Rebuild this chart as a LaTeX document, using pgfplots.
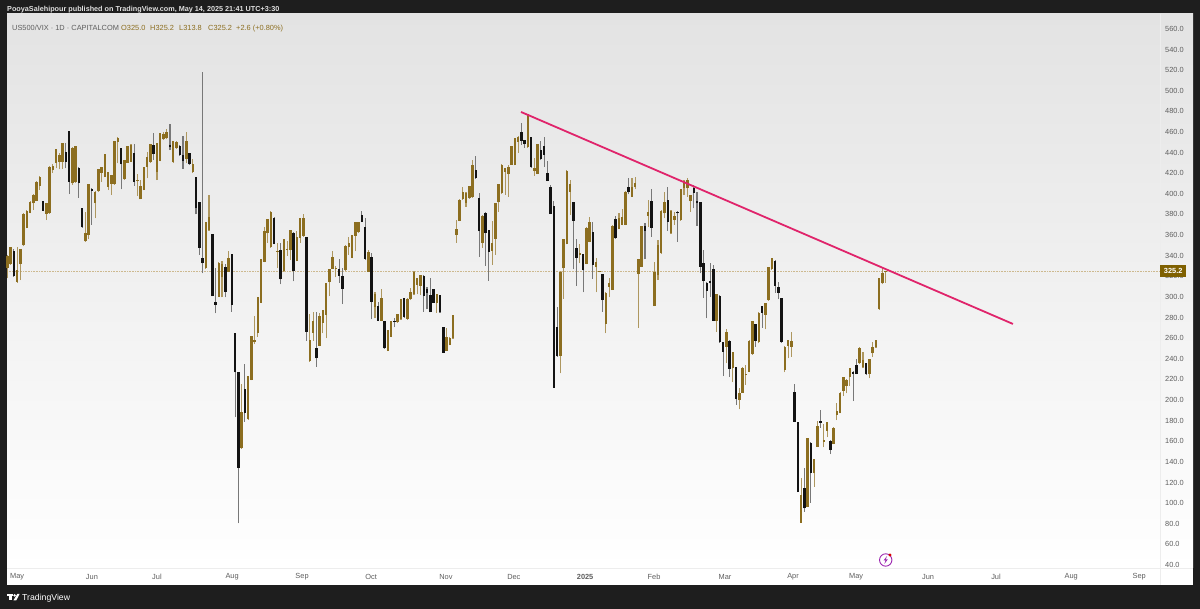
\documentclass[border=0pt]{standalone}
\usepackage{pgfplots}
\usepackage{pgfplotstable}
\usepackage{fontspec}
\pgfplotsset{compat=1.18}
\setmainfont{Liberation Sans}
\definecolor{frame}{HTML}{1E1E1E}
\definecolor{gold}{HTML}{8C6E20}
\definecolor{goldwick}{HTML}{AE975F}
\definecolor{dotline}{HTML}{CDB98F}
\definecolor{blk}{HTML}{131313}
\definecolor{blkwick}{HTML}{787878}
\definecolor{pink}{HTML}{E0246B}
\definecolor{lab}{HTML}{5E5E5E}
\definecolor{tag}{HTML}{7F6000}
\definecolor{icon}{HTML}{9C27B0}
\pgfplotstableread{
i o h l c
0 328.4 340.7 318.0 339.7
1 331.6 348.7 331.0 348.4
2 344.9 346.2 319.6 320.6
3 314.8 348.7 313.8 326.1
4 331.6 346.5 316.4 346.5
5 350.0 381.5 349.0 380.8
6 366.9 384.5 366.5 383.7
7 381.7 393.0 381.0 392.4
8 390.8 399.5 384.3 398.9
9 393.4 412.0 393.0 411.1
10 407.6 417.0 403.7 416.0
11 393.0 393.5 383.0 383.7
12 380.4 391.0 374.6 390.8
13 381.0 427.0 380.5 426.3
14 423.1 428.9 420.5 427.3
15 430.2 443.5 424.7 443.2
16 431.2 440.0 423.8 437.7
17 430.9 449.5 424.1 449.0
18 440.9 449.0 424.7 431.2
19 461.3 461.3 399.8 411.8
20 410.2 445.0 408.6 444.8
21 411.5 446.0 410.8 446.0
22 424.7 426.3 396.3 410.2
23 385.9 386.0 367.0 367.5
24 353.9 382.0 353.5 361.7
25 360.0 409.5 355.9 409.2
26 404.4 405.3 369.8 403.0
27 390.8 402.5 376.2 402.1
28 402.4 424.0 402.0 423.8
29 420.5 426.0 411.8 425.7
30 416.6 439.0 416.0 438.6
31 406.9 421.5 403.7 421.2
32 409.5 418.5 398.9 418.3
33 409.5 451.5 409.0 451.2
34 450.0 455.0 429.6 454.5
35 444.1 444.5 404.4 428.6
36 414.0 433.0 413.5 432.8
37 430.2 446.5 430.0 446.4
38 431.2 448.0 431.0 447.7
39 439.3 448.0 407.6 411.8
40 412.4 419.2 398.2 413.4
41 394.7 413.4 394.5 407.9
42 403.7 426.0 403.5 425.7
43 426.3 440.9 415.0 436.0
44 430.5 448.5 430.0 448.0
45 447.4 459.3 432.8 438.6
46 421.5 449.5 413.4 449.0
47 431.8 459.0 431.5 458.7
48 452.9 460.3 452.0 458.3
49 453.8 462.5 453.0 459.6
50 447.4 467.4 442.5 445.7
51 430.5 451.5 430.0 450.9
52 444.1 451.0 443.5 450.6
53 446.4 447.0 437.0 437.7
54 437.7 456.1 424.1 431.8
55 433.5 459.6 429.6 451.2
56 439.9 440.0 428.0 428.6
57 420.8 433.5 420.5 428.9
58 416.0 416.5 380.1 385.9
59 392.1 392.5 340.7 347.8
60 337.4 518.2 322.9 332.6
61 327.7 373.0 327.0 373.0
62 364.9 398.9 364.3 377.8
63 360.7 361.0 300.5 300.9
64 295.4 327.7 284.1 292.2
65 300.2 333.5 300.0 333.2
66 319.0 335.2 299.6 331.9
67 329.3 331.9 299.6 305.1
68 324.5 344.5 324.0 337.4
69 341.6 342.0 285.7 292.2
70 264.7 265.0 183.2 226.9
71 226.9 227.0 80.4 134.4
72 153.1 215.2 152.5 188.0
73 210.4 234.9 179.0 187.1
74 181.3 223.5 181.0 223.3
75 219.4 262.5 219.0 262.1
76 255.9 281.8 254.3 258.2
77 265.3 300.0 261.4 299.6
78 294.4 337.0 294.0 336.4
79 334.2 368.1 333.5 364.3
80 361.7 376.0 352.6 375.6
81 348.1 383.0 347.5 382.7
82 376.9 377.5 351.0 351.3
83 343.9 352.0 327.7 344.9
84 345.5 352.6 312.2 317.1
85 325.1 356.5 324.5 356.2
86 345.8 354.6 339.7 346.8
87 345.5 365.0 335.8 364.6
88 362.3 362.5 315.1 325.5
89 335.2 364.3 334.5 358.4
90 357.5 376.5 352.6 376.2
91 359.1 380.4 358.5 376.9
92 358.4 358.5 257.2 266.3
93 237.8 283.4 237.0 258.2
94 265.3 285.0 257.6 276.6
95 250.1 285.7 232.4 240.4
96 252.7 284.7 252.0 281.5
97 275.0 287.5 264.7 287.3
98 282.5 313.5 259.8 313.2
99 314.8 327.0 300.9 326.8
100 327.4 344.5 327.0 339.0
101 327.1 330.0 319.0 327.7
102 327.4 336.4 313.8 320.3
103 320.3 327.7 293.1 308.0
104 326.1 350.0 325.5 349.7
105 348.1 358.4 340.7 352.6
106 338.0 360.5 337.5 360.0
107 359.4 373.0 344.5 372.7
108 362.6 372.5 362.0 372.3
109 379.4 383.7 372.5 373.0
110 367.5 376.2 336.0 336.8
111 324.5 345.5 324.0 343.9
112 339.0 342.3 278.3 295.4
113 289.9 305.0 279.2 302.5
114 291.2 295.4 276.5 277.0
115 277.0 307.7 276.5 298.6
116 276.6 277.0 249.5 250.1
117 247.9 268.0 247.5 267.9
118 261.4 277.0 261.0 276.6
119 276.6 279.2 270.5 275.3
120 275.3 283.5 275.0 283.4
121 278.3 298.0 278.0 297.7
122 298.6 299.0 280.0 280.2
123 278.6 298.5 278.0 298.0
124 297.7 308.3 297.0 305.0
125 302.5 325.0 302.0 324.5
126 311.6 318.5 302.5 318.3
127 310.6 321.5 301.9 321.3
128 320.3 321.0 285.7 300.9
129 307.4 309.9 288.0 304.1
130 301.9 318.0 285.0 285.0
131 307.4 307.7 294.0 294.4
132 294.4 303.0 284.7 302.5
133 301.9 302.0 284.7 285.0
134 270.5 271.0 245.5 245.9
135 247.9 269.5 247.5 261.4
136 253.4 261.0 253.0 260.5
137 259.8 282.5 259.5 282.1
138 360.1 374.6 352.6 365.6
139 373.9 394.5 373.5 394.0
140 394.7 406.3 394.0 401.4
141 391.4 401.5 387.5 401.1
142 395.6 408.0 395.0 407.6
143 396.6 432.8 396.0 428.0
144 423.1 436.7 414.5 415.0
145 396.3 401.1 339.0 363.9
146 352.6 379.0 347.8 378.5
147 381.7 382.0 330.3 361.7
148 364.9 365.0 315.8 343.9
149 344.9 374.0 331.0 352.0
150 356.2 391.5 340.7 391.4
151 391.7 410.0 382.7 409.5
152 400.5 428.5 400.0 428.0
153 421.5 425.0 398.9 424.7
154 419.2 428.0 397.2 425.7
155 428.3 446.5 428.0 446.4
156 428.0 454.0 427.5 453.8
157 450.6 456.0 439.9 455.4
158 459.6 469.0 447.4 451.6
159 452.2 452.5 444.8 448.0
160 445.1 477.5 444.5 477.4
161 455.4 455.5 425.0 425.7
162 422.1 434.4 417.3 425.4
163 419.2 448.5 419.0 448.0
164 442.5 451.2 432.8 433.8
165 446.4 455.4 426.3 437.7
166 420.5 431.8 412.0 412.4
167 406.9 408.6 380.0 380.4
168 388.2 393.0 212.0 212.0
169 271.2 290.6 242.0 242.7
170 242.7 325.0 225.9 324.5
171 327.7 356.0 298.0 355.9
172 351.3 423.0 351.0 422.5
173 402.1 413.4 379.5 409.5
174 391.7 392.0 326.8 374.0
175 347.1 355.9 310.9 338.1
176 341.0 351.3 332.6 342.3
177 341.6 342.0 304.5 326.1
178 331.9 367.5 331.5 367.2
179 353.6 377.2 353.0 372.3
180 362.6 373.0 317.4 331.0
181 328.7 337.4 304.5 334.2
182 324.2 325.5 323.8 325.1
183 322.2 322.5 285.7 297.0
184 273.7 304.5 264.7 304.1
185 310.0 318.0 299.6 313.2
186 306.7 369.5 306.5 369.1
187 375.3 378.5 356.5 356.8
188 365.9 381.1 365.5 376.2
189 369.8 385.0 369.5 377.2
190 369.8 402.5 369.5 402.1
191 406.9 415.0 399.5 401.4
192 397.2 415.0 397.0 406.9
193 406.3 416.6 404.4 410.2
194 322.2 337.0 270.2 336.5
195 329.4 369.0 329.0 368.8
196 369.1 372.0 336.5 364.3
197 378.5 394.0 368.1 382.7
198 393.4 404.4 358.4 367.2
199 291.2 334.2 291.0 324.5
200 321.3 355.2 316.4 350.4
201 342.3 384.0 342.0 383.7
202 381.1 402.1 376.2 391.7
203 394.0 406.3 364.0 373.0
204 361.7 384.0 361.5 383.7
205 374.6 382.7 369.8 378.8
206 382.7 383.7 353.6 381.1
207 374.6 405.0 374.0 404.7
208 405.3 413.4 398.9 412.8
209 405.3 415.0 397.2 413.4
210 393.0 399.0 382.7 398.9
211 405.3 408.6 385.9 401.1
212 393.0 402.1 368.8 390.8
213 391.7 392.0 322.9 329.3
214 333.2 345.5 299.3 315.4
215 313.8 314.0 279.2 306.1
216 315.4 332.6 300.2 313.2
217 327.1 331.0 276.5 277.0
218 277.0 303.0 266.3 302.5
219 300.9 301.5 255.5 256.0
220 256.0 256.5 223.3 246.9
221 251.8 268.6 235.6 266.3
222 257.6 258.0 222.7 230.1
223 230.7 247.0 217.2 246.3
224 231.7 232.0 195.2 200.7
225 200.0 211.3 191.0 206.5
226 207.1 232.0 207.0 231.4
227 223.9 234.0 214.6 224.9
228 227.5 258.0 227.0 257.6
229 244.6 277.0 244.0 276.6
230 273.4 274.0 251.8 257.6
231 256.6 285.0 255.0 284.7
232 291.2 291.5 270.2 284.7
233 282.5 294.0 268.6 293.8
234 297.0 329.5 296.5 329.3
235 326.8 338.0 326.5 337.4
236 335.2 335.5 304.1 310.6
237 309.9 314.8 297.7 304.1
238 298.6 299.0 255.5 256.0
239 229.1 252.0 226.9 251.8
240 252.7 258.5 240.4 258.2
241 251.8 266.3 242.0 257.2
242 207.5 215.2 178.5 179.0
243 178.3 178.5 110.5 111.1
244 81.0 124.0 80.8 107.9
245 115.0 133.7 91.7 94.9
246 96.6 163.0 96.0 162.8
247 158.6 159.0 100.4 128.9
248 128.9 143.0 116.0 142.5
249 154.8 179.6 154.5 174.8
250 179.6 190.3 173.2 178.0
251 159.6 176.7 154.1 161.2
252 170.0 178.5 163.8 178.3
253 160.6 161.0 147.6 151.5
254 157.3 173.5 157.0 173.2
255 185.5 196.8 180.6 189.3
256 187.1 207.5 187.0 207.1
257 209.0 222.5 203.9 222.0
258 213.6 220.0 206.5 219.4
259 222.6 231.0 213.6 230.7
260 227.5 228.0 199.0 225.2
261 233.9 239.5 225.0 225.2
262 235.6 251.0 235.0 250.8
263 232.3 246.9 230.7 238.8
264 235.6 236.0 224.5 224.9
265 225.2 240.0 221.0 239.5
266 245.3 256.0 242.0 251.7
267 251.0 258.5 250.5 258.2
268 288.0 318.5 287.5 318.0
269 313.2 327.7 312.2 323.5
270 325.0 325.2 313.8 325.2
}\candles
\begin{document}
\begin{tikzpicture}[x=1pt,y=1pt]
\useasboundingbox (0,0) rectangle (1200,609);
\fill[frame] (0,0) rectangle (1200,609);
\fill[white] (7,24) rectangle (1193,41);
\shade[top color=black!11, bottom color=white] (7,41) rectangle (1193,595);
\draw[black!7,line width=.6pt] (7,41) -- (1193,41);
\draw[black!7,line width=.6pt] (1160,24) -- (1160,595);
\begin{axis}[
  at={(7pt,41pt)}, anchor=south west,
  width=1153pt, height=554pt, scale only axis,
  xmin=-0.1, xmax=354.3, ymin=37.09, ymax=574.43,
  clip=false,
  axis line style={draw=none},
  major tick length=0pt,
  ytick pos=right,
  ytick={40,60,...,560},
  /pgf/number format/assume math mode=true,
  /pgf/number format/fixed,
  /pgf/number format/fixed zerofill,
  /pgf/number format/precision=1,
  yticklabel style={anchor=west,inner xsep=0pt,xshift=5pt,text=lab,font=\fontsize{7.4}{9}\selectfont},
  xtick={3,26,46,69.1,90.6,111.8,134.8,155.7,177.6,198.8,220.6,241.5,260.9,283,303.9,327,347.9},
  xticklabels={May,Jun,Jul,Aug,Sep,Oct,Nov,Dec,\textbf{2025},Feb,Mar,Apr,May,Jun,Jul,Aug,Sep},
  xticklabel style={anchor=center,inner sep=0pt,yshift=-8.6pt,text=lab,font=\fontsize{7.4}{9}\selectfont},
  every axis plot/.append style={forget plot},
]
\addplot[densely dotted,line width=.6pt,color=dotline] coordinates {(-0.1,325.2) (354.3,325.2)};
% wicks
\addplot[draw=none,mark=none,error bars/.cd,y dir=plus,y explicit,error mark=none,
  error bar style={line width=1.1pt,color=goldwick,line cap=butt}]
  table[x=i,y expr={\thisrow{c}>=\thisrow{o} ? \thisrow{l} : nan},y error plus expr={\thisrow{h}-\thisrow{l}}] {\candles};
\addplot[draw=none,mark=none,error bars/.cd,y dir=plus,y explicit,error mark=none,
  error bar style={line width=1.1pt,color=blkwick,line cap=butt}]
  table[x=i,y expr={\thisrow{c}>=\thisrow{o} ? nan : \thisrow{l}},y error plus expr={\thisrow{h}-\thisrow{l}}] {\candles};
% bodies
\addplot[draw=none,mark=none,error bars/.cd,y dir=plus,y explicit,error mark=none,
  error bar style={line width=2.5pt,color=gold,line cap=butt}]
  table[x=i,y expr={\thisrow{c}>=\thisrow{o} ? \thisrow{o} : nan},y error plus expr={\thisrow{c}-\thisrow{o}}] {\candles};
\addplot[draw=none,mark=none,error bars/.cd,y dir=plus,y explicit,error mark=none,
  error bar style={line width=2.5pt,color=blk,line cap=butt}]
  table[x=i,y expr={\thisrow{c}>=\thisrow{o} ? nan : \thisrow{c}},y error plus expr={\thisrow{o}-\thisrow{c}}] {\candles};
% trend line
\addplot[color=pink,line width=1.8pt] coordinates {(157.9,479.4) (309.1,273.8)};
\end{axis}
% price tag
\fill[tag] (1160.3,332) rectangle (1186,343.5);
\node[anchor=center,inner sep=0pt,text=white,font=\fontsize{7.4}{9}\selectfont\bfseries] at (1173.2,337.8) {325.2};
% header
\node[anchor=base west,inner sep=0pt,text=black!12,font=\fontsize{7.25}{9}\selectfont\bfseries] at (7,597) {PooyaSalehipour published on TradingView.com, May 14, 2025 21:41 UTC+3:30};
% legend
\node[anchor=base west,inner sep=0pt,text=lab,font=\fontsize{7.4}{9}\selectfont] at (12,578.8) {US500/VIX · 1D · CAPITALCOM};
\node[anchor=base west,inner sep=0pt,text=gold,font=\fontsize{7.4}{9}\selectfont] at (121,578.8) {O325.0};
\node[anchor=base west,inner sep=0pt,text=gold,font=\fontsize{7.4}{9}\selectfont] at (150,578.8) {H325.2};
\node[anchor=base west,inner sep=0pt,text=gold,font=\fontsize{7.4}{9}\selectfont] at (179,578.8) {L313.8};
\node[anchor=base west,inner sep=0pt,text=gold,font=\fontsize{7.4}{9}\selectfont] at (208,578.8) {C325.2};
\node[anchor=base west,inner sep=0pt,text=gold,font=\fontsize{7.4}{9}\selectfont] at (236,578.8) {+2.6 (+0.80\%)};
% lightning icon
\draw[color=icon,line width=.9pt] (885.7,49) circle (6.2);
\fill[color=icon] (887,53) -- (883.6,48.6) -- (885.6,48.6) -- (884.3,45) -- (887.8,49.6) -- (885.8,49.6) -- cycle;
\fill[red!85!black] (890,54) circle (1.7);
% footer
\fill[white] (7,15) rectangle (13,12.5);
\fill[white] (9.3,15) rectangle (11.8,8.5);
\fill[white] (14.6,13.6) circle (1.4);
\fill[white] (17.3,15) -- (19.6,15) -- (16.2,8.5) -- (13.4,8.5) -- cycle;
\node[anchor=base west,inner sep=0pt,text=white,font=\fontsize{8.7}{11}\selectfont] at (22,8.6) {TradingView};
\end{tikzpicture}
\end{document}
